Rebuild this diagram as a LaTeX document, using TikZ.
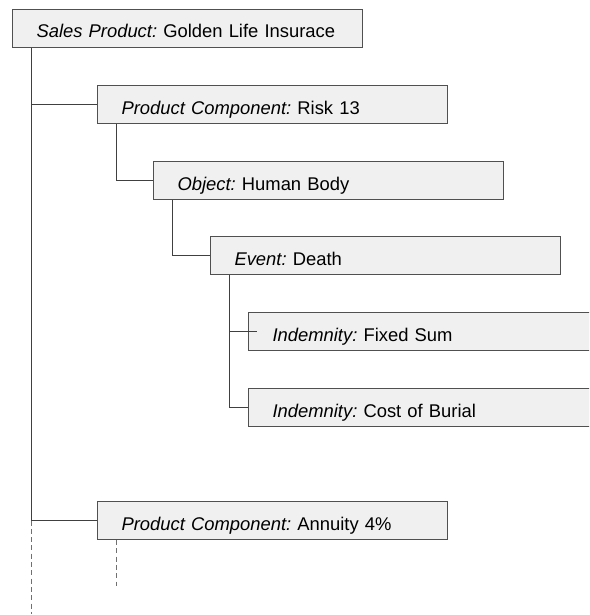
\documentclass[tikz,border=0pt]{standalone}
\usepackage{fontspec}
\setmainfont{Liberation Sans}
\usepackage{tikz}
\usetikzlibrary{positioning}
\frenchspacing

\definecolor{boxfill}{HTML}{F0F0F0}
\definecolor{boxline}{HTML}{505050}
\definecolor{treeline}{HTML}{404040}
\definecolor{moreline}{HTML}{707070}

\tikzset{
	item/.style={draw=boxline, fill=boxfill, line width=1pt, anchor=north west,
		text width=302pt, align=left, inner xsep=24pt, inner ysep=0pt,
		minimum height=38pt, text height=23pt, text depth=4pt,
		font=\fontsize{18.4}{22}\selectfont},
	branch/.style={draw=treeline, line width=1pt},
	more/.style={draw=moreline, line width=1pt, dash pattern=on 5pt off 3.3pt}
}

\begin{document}
\begin{tikzpicture}[x=1pt,y=-1pt]
	\clip (0,0) rectangle (589,615);
	\node[item] (sales) at (12,9) {{\itshape Sales Product:} Golden Life Insurace};
	\node[item] (risk) at (97,85) {{\itshape Product Component:} Risk 13};
	\node[item] (object) at (153,161) {{\itshape Object:} Human Body};
	\node[item] (event) at (210,236) {{\itshape Event:} Death};
	\node[item] (fixed) at (248,312) {{\itshape Indemnity:} Fixed Sum};
	\node[item] (burial) at (248,388) {{\itshape Indemnity:} Cost of Burial};
	\node[item] (annuity) at (97,501) {{\itshape Product Component:} Annuity 4\%};
	\coordinate (mainend) at (31,614);
	\coordinate (subend) at (116,586);
	% tree
	\draw[branch] ([xshift=19pt]sales.south west) |- (risk.west);
	\draw[branch] ([xshift=19pt]sales.south west) |- (annuity.west);
	\draw[branch] ([xshift=19pt]risk.south west) |- (object.west);
	\draw[branch] ([xshift=19pt]object.south west) |- (event.west);
	\draw[branch] ([xshift=19pt]event.south west) |- ([xshift=9pt]fixed.west);
	\draw[branch] ([xshift=19pt]event.south west) |- (burial.west);
	% to be continued
	\draw[more] (mainend |- annuity.west) -- (mainend);
	\draw[more] (subend |- annuity.south) -- (subend);
\end{tikzpicture}
\end{document}
